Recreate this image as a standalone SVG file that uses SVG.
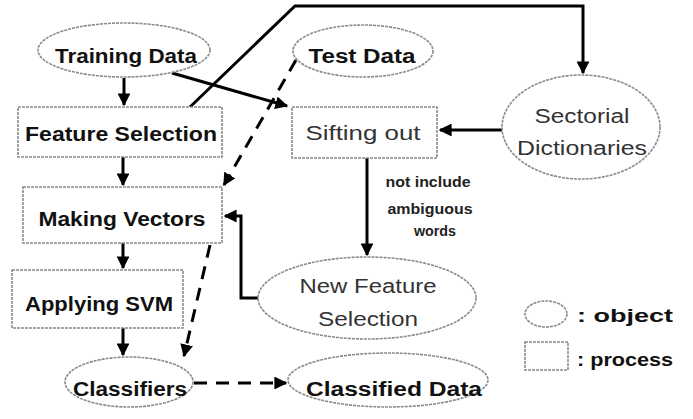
<svg xmlns="http://www.w3.org/2000/svg" width="693" height="419" viewBox="0 0 693 419">
<style>
.obj{fill:#fff;stroke:#8a8a8a;stroke-width:1.6;stroke-dasharray:3 1}
.proc{fill:#fff;stroke:#8a8a8a;stroke-width:1.6;stroke-dasharray:3 1}
.b{font-family:"Liberation Sans",Arial,sans-serif;font-weight:bold;font-size:20px;fill:#111;text-anchor:middle}
.n{font-family:"Liberation Sans",Arial,sans-serif;font-size:20px;fill:#333;text-anchor:middle}
.s{font-family:"Liberation Sans",Arial,sans-serif;font-weight:bold;font-size:14px;fill:#222;text-anchor:middle}
.lg{font-family:"Liberation Sans",Arial,sans-serif;font-weight:bold;font-size:19px;fill:#111}
.c{fill:none;stroke:#000;stroke-width:3}
.d{fill:none;stroke:#000;stroke-width:3;stroke-dasharray:13 9}
</style>
<defs>
<marker id="ah" viewBox="0 0 10 10" refX="9" refY="5" markerWidth="4.3" markerHeight="4.3" orient="auto" markerUnits="strokeWidth">
<path d="M0,0 L10,5 L0,10 z" fill="#000"/>
</marker>
</defs>
<rect width="693" height="419" fill="#fff"/>

<g id="connectors">
<path class="c" d="M124,78 V105" marker-end="url(#ah)"/>
<path class="c" d="M123,157 V185" marker-end="url(#ah)"/>
<path class="c" d="M123,243 V268" marker-end="url(#ah)"/>
<path class="c" d="M123,328 V355" marker-end="url(#ah)"/>
<path class="c" d="M172,73 L287,106" marker-end="url(#ah)"/>
<path class="c" d="M190,107 L295,6 H583 V73" marker-end="url(#ah)"/>
<path class="c" d="M502,130 H440" marker-end="url(#ah)"/>
<path class="c" d="M367,158 V255" marker-end="url(#ah)"/>
<path class="c" d="M258,298 H241 V216 H225" marker-end="url(#ah)"/>
<path class="d" d="M296,60 L224,185" marker-end="url(#ah)"/>
<path class="d" d="M210,245 L184,356" marker-end="url(#ah)"/>
<path class="d" d="M194,383 H286" marker-end="url(#ah)"/>
</g>

<g id="training-data">
<ellipse class="obj" cx="124" cy="50" rx="86" ry="27"/>
<text class="b" x="126" y="63" textLength="142" lengthAdjust="spacingAndGlyphs">Training Data</text>
</g>
<g id="test-data">
<ellipse class="obj" cx="363" cy="51" rx="70" ry="26"/>
<text class="b" x="362" y="63" textLength="107" lengthAdjust="spacingAndGlyphs">Test Data</text>
</g>
<g id="feature-selection">
<rect class="proc" x="18" y="107" width="204" height="50"/>
<text class="b" x="121" y="141" textLength="192" lengthAdjust="spacingAndGlyphs">Feature Selection</text>
</g>
<g id="sifting-out">
<rect class="proc" x="292" y="107" width="145" height="51"/>
<text class="n" x="363" y="140" textLength="115" lengthAdjust="spacingAndGlyphs">Sifting out</text>
</g>
<g id="sectorial-dictionaries">
<ellipse class="obj" cx="581" cy="127" rx="79" ry="52"/>
<text class="n" x="582" y="123" textLength="95" lengthAdjust="spacingAndGlyphs">Sectorial</text>
<text class="n" x="582" y="155" textLength="130" lengthAdjust="spacingAndGlyphs">Dictionaries</text>
</g>
<g id="making-vectors">
<rect class="proc" x="23" y="187" width="199" height="56"/>
<text class="b" x="122" y="226" textLength="167" lengthAdjust="spacingAndGlyphs">Making Vectors</text>
</g>
<g id="applying-svm">
<rect class="proc" x="12" y="270" width="171" height="58"/>
<text class="b" x="99" y="311" textLength="148" lengthAdjust="spacingAndGlyphs">Applying SVM</text>
</g>
<g id="new-feature-selection">
<ellipse class="obj" cx="367" cy="298" rx="109" ry="41"/>
<text class="n" x="368" y="293" textLength="137" lengthAdjust="spacingAndGlyphs">New Feature</text>
<text class="n" x="368" y="326" textLength="100" lengthAdjust="spacingAndGlyphs">Selection</text>
</g>
<g id="classifiers">
<ellipse class="obj" cx="129" cy="382" rx="64" ry="25"/>
<text class="b" x="130" y="396" textLength="114" lengthAdjust="spacingAndGlyphs">Classifiers</text>
</g>
<g id="classified-data">
<ellipse class="obj" cx="388" cy="380" rx="100" ry="27"/>
<text class="b" x="394" y="396" textLength="176" lengthAdjust="spacingAndGlyphs">Classified Data</text>
</g>
<g id="label-not-include">
<text class="s" x="428" y="187" textLength="85" lengthAdjust="spacingAndGlyphs">not include</text>
<text class="s" x="430" y="214" textLength="85" lengthAdjust="spacingAndGlyphs">ambiguous</text>
<text class="s" x="435" y="236" textLength="42" lengthAdjust="spacingAndGlyphs">words</text>
</g>
<g id="legend">
<ellipse class="obj" cx="546" cy="314" rx="21" ry="13"/>
<text class="lg" x="577" y="322" textLength="96" lengthAdjust="spacingAndGlyphs">: object</text>
<rect class="proc" x="525" y="342" width="43" height="28"/>
<text class="lg" x="577" y="366" textLength="96" lengthAdjust="spacingAndGlyphs">: process</text>
</g>
</svg>
